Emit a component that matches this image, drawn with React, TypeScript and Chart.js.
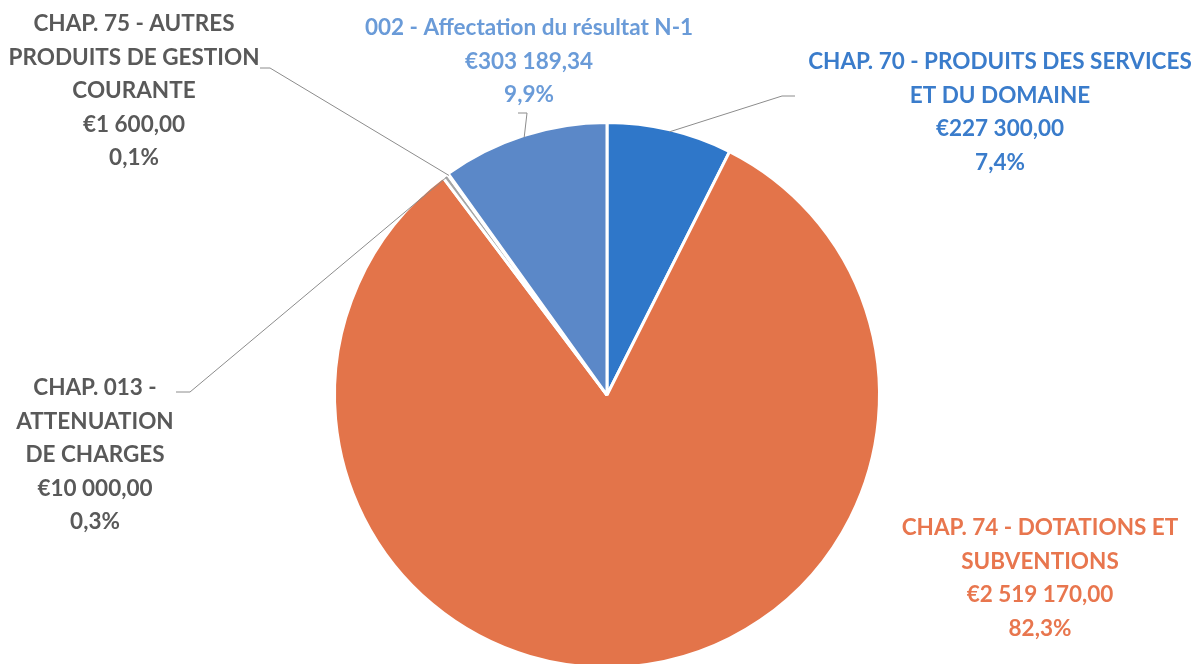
import React, { useEffect, useRef } from "react";
import { Chart, registerables } from "chart.js";

Chart.register(...registerables);

const categories = [
  ["CHAP. 70 - PRODUITS DES SERVICES", "ET DU DOMAINE"],
  ["CHAP. 74 - DOTATIONS ET", "SUBVENTIONS"],
  ["CHAP. 013 -", "ATTENUATION", "DE CHARGES"],
  ["CHAP. 75 - AUTRES", "PRODUITS DE GESTION", "COURANTE"],
  ["002 - Affectation du résultat N-1"],
];
const values = [227300.0, 2519170.0, 10000.0, 1600.0, 303189.34];
const amountLabels = ["€227 300,00", "€2 519 170,00", "€10 000,00", "€1 600,00", "€303 189,34"];
const percentLabels = ["7,4%", "82,3%", "0,3%", "0,1%", "9,9%"];
const sliceColors = ["#2F77C9", "#E3744A", "#A5A5A5", "#C9B35A", "#5B88C8"];
const textColors = ["#3A7CCB", "#E8764E", "#595959", "#595959", "#6A9BD8"];

// label layout: center x, first line y, leader anchor (label side), elbow point
const labelLayout = [
  { x: 1000, y: 62, anchor: [795, 96], elbow: [782, 96] },
  { x: 1040, y: 528, anchor: null, elbow: null },
  { x: 95, y: 388, anchor: [176, 392], elbow: [190, 392] },
  { x: 134, y: 24, anchor: [260, 68], elbow: [270, 68] },
  { x: 529, y: 28, anchor: [518, 113], elbow: [527, 113] },
];

const lineGap = 33.5;

const labelPlugin = {
  id: "pieLabels",
  afterDatasetsDraw(chart: any) {
    const ctx = chart.ctx;
    const meta = chart.getDatasetMeta(0);
    ctx.save();
    ctx.font = "bold 22.5px Lato, 'Open Sans', sans-serif";
    ctx.textAlign = "center";
    ctx.textBaseline = "middle";
    labelLayout.forEach((lay, i) => {
      const lines = [...categories[i], amountLabels[i], percentLabels[i]];
      ctx.fillStyle = textColors[i];
      lines.forEach((t, k) => ctx.fillText(t, lay.x, lay.y + k * lineGap));
      if (lay.anchor && lay.elbow) {
        const arc = meta.data[i];
        const p = arc.getProps(["x", "y", "startAngle", "endAngle", "outerRadius"], true);
        const mid = (p.startAngle + p.endAngle) / 2;
        const ex = p.x + Math.cos(mid) * (p.outerRadius - 2);
        const ey = p.y + Math.sin(mid) * (p.outerRadius - 2);
        ctx.strokeStyle = "#8C8C8C";
        ctx.lineWidth = 1;
        ctx.beginPath();
        ctx.moveTo(lay.anchor[0], lay.anchor[1]);
        ctx.lineTo(lay.elbow[0], lay.elbow[1]);
        ctx.lineTo(ex, ey);
        ctx.stroke();
      }
    });
    ctx.restore();
  },
};

export default function App() {
  const ref = useRef<HTMLCanvasElement>(null);
  useEffect(() => {
    document.body.style.margin = "0";
    const chart = new Chart(ref.current!, {
      type: "pie",
      data: {
        labels: categories.map((c) => c.join(" ")),
        datasets: [
          {
            data: values,
            backgroundColor: sliceColors,
            borderColor: "#ffffff",
            borderWidth: 3,
          },
        ],
      },
      options: {
        responsive: false,
        animation: false,
        layout: { padding: { left: 333, right: 314, top: 121, bottom: 121 } },
        plugins: { legend: { display: false }, tooltip: { enabled: false } },
      },
      plugins: [labelPlugin],
    });
    return () => chart.destroy();
  }, []);
  return (
    <div style={{ width: 1195, height: 664, overflow: "hidden", background: "#fff", position: "relative" }}>
      <canvas ref={ref} width={1195} height={790} style={{ display: "block" }} />
    </div>
  );
}
